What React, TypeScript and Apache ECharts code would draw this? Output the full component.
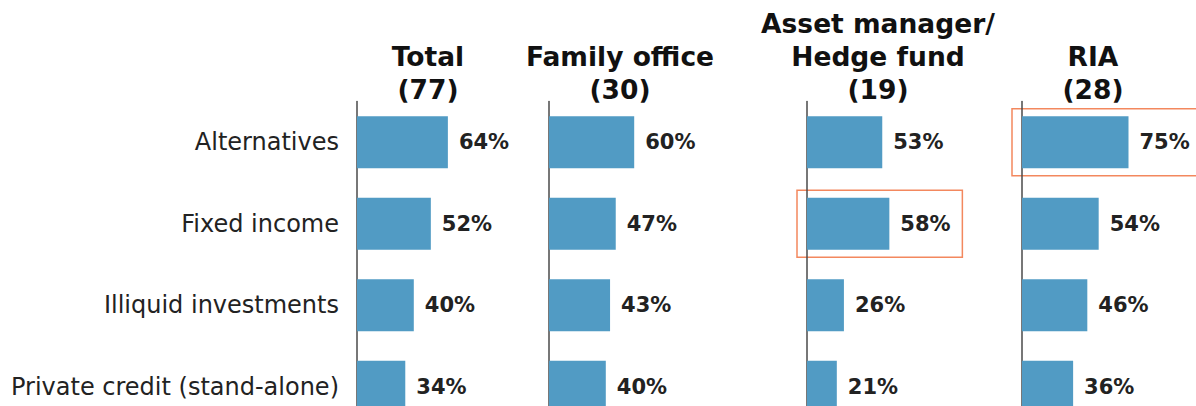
import React, { useEffect, useRef } from "react";
import * as echarts from "echarts";

const categories = ["Alternatives", "Fixed income", "Illiquid investments", "Private credit (stand-alone)"];
const panelTitles = [["Total", "(77)"], ["Family office", "(30)"], ["Asset manager/", "Hedge fund", "(19)"], ["RIA", "(28)"]];
const totalValues = [64, 52, 40, 34];
const familyOfficeValues = [60, 47, 43, 40];
const assetManagerValues = [53, 58, 26, 21];
const riaValues = [75, 54, 46, 36];
const panelValues = [totalValues, familyOfficeValues, assetManagerValues, riaValues];
// highlighted cells: [panel index, category]
const highlights: [number, string][] = [
  [2, "Fixed income"],
  [3, "Alternatives"],
];

const gridLefts = [357, 549, 807, 1022];
const GRID_W = 142;
const BAR_COLOR = "#519BC4";
const ORANGE = "#F3885E";

export default function App() {
  const ref = useRef<HTMLDivElement>(null);
  useEffect(() => {
    if (!ref.current) return;
    const chart = echarts.init(ref.current, null, { renderer: "svg" });
    const grids = gridLefts.map((l) => ({ left: l, top: 101.5, width: GRID_W, height: 326, containLabel: false }));
    const xAxes = gridLefts.map((_, i) => ({
      type: "value",
      gridIndex: i,
      min: 0,
      max: 100,
      show: false,
    }));
    const yAxes = gridLefts.map((_, i) => ({
      type: "category",
      gridIndex: i,
      data: categories,
      inverse: true,
      axisLine: { show: true, lineStyle: { color: "#4a4a4a", width: 1.5 } },
      axisTick: { show: false },
      splitLine: { show: false },
      axisLabel: {
        show: i === 0,
        margin: 18,
        fontFamily: "DejaVu Sans",
        fontSize: 24,
        color: "#222",
      },
    }));
    const series = panelValues.map((vals, i) => ({
      type: "bar",
      xAxisIndex: i,
      yAxisIndex: i,
      data: vals,
      barWidth: 52,
      itemStyle: { color: BAR_COLOR },
      label: {
        show: true,
        position: "right",
        distance: 11,
        formatter: "{c}%",
        fontFamily: "DejaVu Sans",
        fontWeight: "bold",
        fontSize: 21,
        color: "#222",
      },
    }));
    chart.setOption({
      animation: false,
      backgroundColor: "#fff",
      grid: grids,
      xAxis: xAxes,
      yAxis: yAxes,
      series,
    });

    const graphics: any[] = [];
    panelTitles.forEach((lines, i) => {
      const cx = chart.convertToPixel({ xAxisIndex: i } as any, 50) as number;
      const n = lines.length;
      lines.forEach((line, j) => {
        graphics.push({
          type: "text",
          x: cx,
          y: 89 - (n - 1 - j) * 33,
          style: {
            text: line,
            fontFamily: "DejaVu Sans",
            fontWeight: "bold",
            fontSize: 26.5,
            lineHeight: 31,
            fill: "#111",
            textAlign: "center",
            textVerticalAlign: "middle",
          },
        });
      });
    });
    highlights.forEach(([p, cat]) => {
      const idx = categories.indexOf(cat);
      const v = panelValues[p][idx];
      const x0 = (chart.convertToPixel({ xAxisIndex: p } as any, 0) as number) - 10;
      const x1 = (chart.convertToPixel({ xAxisIndex: p } as any, v) as number) + 73;
      const cy = chart.convertToPixel({ yAxisIndex: p } as any, cat) as number;
      graphics.push({
        type: "rect",
        shape: { x: x0, y: cy - 33.5, width: x1 - x0, height: 67 },
        style: { fill: "none", stroke: ORANGE, lineWidth: 1.5 },
      });
    });
    chart.setOption({ graphic: graphics });
    return () => chart.dispose();
  }, []);
  return (
    <div style={{ position: "absolute", left: 0, top: 0, width: 1196, height: 406, overflow: "hidden" }}>
      <div ref={ref} style={{ width: 1196, height: 430 }} />
    </div>
  );
}
